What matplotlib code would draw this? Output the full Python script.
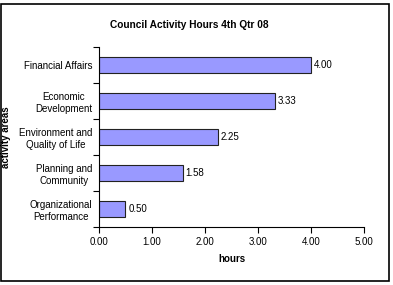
import matplotlib.pyplot as plt
from matplotlib.patches import Rectangle
import numpy as np

plt.rcParams['font.family'] = ['Liberation Sans', 'DejaVu Sans']

# data (bottom to top)
areas = ['Organizational\nPerformance', 'Planning and\nCommunity',
         'Environment and\nQuality of Life', 'Economic\nDevelopment',
         'Financial Affairs']
hours = [0.50, 1.58, 2.25, 3.33, 4.00]
x_ticks = [0, 1, 2, 3, 4, 5]

fig = plt.figure(figsize=(3.93, 2.85), dpi=100)
ax = fig.add_axes([99 / 393, 1 - 227 / 285, 265 / 393, 180 / 285])

pos = np.arange(len(areas))
ax.barh(pos, hours, height=0.42, color='#9999ff', edgecolor='#222222', linewidth=0.8)

for p, h in zip(pos, hours):
    ax.text(h + 0.05, p, f'{h:.2f}', va='center', ha='left', fontsize=7)

ax.set_xlim(0, 5)
ax.set_ylim(-0.5, len(areas) - 0.5)
ax.set_xticks(x_ticks)
ax.set_xticklabels([f'{v:.2f}' for v in x_ticks], fontsize=7)
ax.set_yticks(pos)
ax.set_yticklabels(areas, fontsize=7)
for lab in ax.get_yticklabels():
    lab.set_multialignment('center')
ax.tick_params(axis='y', which='major', length=0, pad=5)
ax.set_yticks(np.arange(-0.5, len(areas)), minor=True)
ax.tick_params(axis='y', which='minor', length=4, width=0.8)
ax.tick_params(axis='x', length=4, width=0.8, pad=3)

ax.spines['top'].set_visible(False)
ax.spines['right'].set_visible(False)
ax.spines['left'].set_linewidth(0.8)
ax.spines['bottom'].set_linewidth(0.8)

ax.set_xlabel('hours', fontsize=7, fontweight='bold', labelpad=5)
fig.text(6 / 393, 1 - 137 / 285, 'activity areas', rotation=90, fontsize=7,
         fontweight='bold', ha='center', va='center')
fig.text(189 / 393, 1 - 25 / 285, 'Council Activity Hours 4th Qtr 08', fontsize=7.3,
         fontweight='bold', ha='center', va='center')

# chart border
fig.patches.append(Rectangle((1 / 393, 1 - 281 / 285), 388 / 393, 277 / 285,
                             transform=fig.transFigure, fill=False,
                             edgecolor='black', linewidth=1.2))

fig.savefig('out.png', dpi=100)
